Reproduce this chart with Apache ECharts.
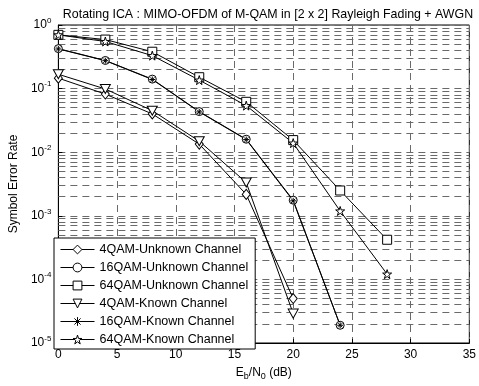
<!DOCTYPE html>
<html>
<head>
<meta charset="utf-8">
<script src="https://cdn.jsdelivr.net/npm/echarts@6/dist/echarts.min.js"></script>
<style>
  html, body { margin: 0; padding: 0; background: #fff; }
  #chart { width: 479px; height: 386px; }
</style>
</head>
<body>
<div id="chart"></div>
<script>
// Eb/N0 points (dB)
var ebn0 = [0, 4, 8, 12, 16, 20, 24, 28];

// symbol error rates
var qam4Unknown  = [0.146, 0.082, 0.040, 0.0134, 0.00217, 5.0e-5];
var qam16Unknown = [0.425, 0.277, 0.141, 0.0435, 0.016, 0.00176, 1.9e-5];
var qam64Unknown = [0.70, 0.59, 0.38, 0.151, 0.062, 0.0155, 0.0025, 0.00042];
var qam4Known    = [0.168, 0.0986, 0.045, 0.0149, 0.00334, 2.9e-5];
var qam16Known   = [0.42, 0.275, 0.139, 0.043, 0.0158, 0.00172, 1.9e-5];
var qam64Known   = [0.70, 0.55, 0.33, 0.136, 0.054, 0.0139, 0.00119, 0.000121];

var seriesNames = ['4QAM-Unknown Channel', '16QAM-Unknown Channel', '64QAM-Unknown Channel',
                   '4QAM-Known Channel', '16QAM-Known Channel', '64QAM-Known Channel'];

var FONT = 'Liberation Sans';
var GRID_DASH = { color: '#6a6a6a', type: [7, 5], width: 1 };

// marker shapes
var triDown = 'path://M0,0L10,0L5,9Z';
var asterisk = 'path://M5,0L5,10M0,5L10,5M1.5,1.5L8.5,8.5M8.5,1.5L1.5,8.5';
var star5 = 'path://M50,0L61.2,34.6L97.6,34.5L68.1,55.9L79.4,90.5L50,69L20.6,90.5L31.9,55.9L2.4,34.5L38.8,34.6Z';

// minor log grid lines 2..9 x 10^k
var minorLines = [];
for (var k = -5; k < 0; k++) {
  for (var m = 2; m <= 9; m++) {
    minorLines.push({ yAxis: +(m * Math.pow(10, k)).toPrecision(3) });
  }
}

function pairs(vals) {
  var res = [];
  for (var i = 0; i < vals.length; i++) res.push([ebn0[i], vals[i]]);
  return res;
}

function mkSeries(name, vals, symbol, size) {
  return {
    name: name,
    type: 'line',
    data: pairs(vals),
    symbol: symbol,
    symbolSize: size,
    showAllSymbol: true,
    lineStyle: { color: '#000', width: 1 },
    itemStyle: { color: '#fff', borderColor: '#000', borderWidth: 1 },
    emphasis: { disabled: true },
    animation: false,
    z: 3
  };
}

var chart = echarts.init(document.getElementById('chart'));

chart.setOption({
  animation: false,
  title: {
    text: 'Rotating ICA : MIMO-OFDM of M-QAM in [2 x 2] Rayleigh Fading + AWGN',
    left: 263, top: 4, textAlign: 'center',
    textStyle: { fontFamily: FONT, fontSize: 12.4, fontWeight: 'normal', color: '#000' }
  },
  legend: {
    orient: 'vertical',
    left: 54, top: 238,
    z: 20,
    padding: [5, 7, 3, 6],
    itemWidth: 34, itemHeight: 11, itemGap: 5,
    backgroundColor: '#fff',
    borderColor: '#000', borderWidth: 1,
    lineStyle: { width: 1 },
    itemStyle: { borderWidth: 1 },
    textStyle: { fontFamily: FONT, fontSize: 12.5, color: '#000' },
    data: seriesNames
  },
  grid: {
    left: 54, right: 7, top: 25, bottom: 38,
    show: true, borderColor: '#000', borderWidth: 1, backgroundColor: 'transparent'
  },
  xAxis: {
    type: 'value', min: 0, max: 35, interval: 5,
    name: '{a|E}{s|b}{a|/N}{s|0}{a| (dB)}',
    nameLocation: 'middle', nameGap: 22,
    nameTextStyle: {
      rich: {
        a: { fontFamily: FONT, fontSize: 12, color: '#000' },
        s: { fontFamily: FONT, fontSize: 9, color: '#000', padding: [7, 0, 0, 0] }
      }
    },
    axisLine: { lineStyle: { color: '#000' } },
    axisTick: { inside: true, length: 4, lineStyle: { color: '#000' } },
    axisLabel: { fontFamily: FONT, fontSize: 12, color: '#000', margin: 6 },
    splitLine: { show: true, lineStyle: GRID_DASH }
  },
  yAxis: {
    type: 'log', logBase: 10, min: 1e-5, max: 1,
    name: 'Symbol Error Rate',
    nameLocation: 'middle', nameGap: 36,
    nameTextStyle: { fontFamily: FONT, fontSize: 12, color: '#000' },
    axisLine: { lineStyle: { color: '#000' } },
    axisTick: { inside: true, length: 4, lineStyle: { color: '#000' } },
    axisLabel: {
      margin: 7,
      formatter: function (v) {
        var e = Math.round(Math.log10(v));
        return '{b|10}{p|' + e + '}';
      },
      rich: {
        b: { fontFamily: FONT, fontSize: 12, color: '#000' },
        p: { fontFamily: FONT, fontSize: 8, color: '#000', padding: [0, 0, 9, 0] }
      }
    },
    splitLine: { show: true, lineStyle: GRID_DASH }
  },
  series: [
    {
      // minor grid only
      name: 'minor-grid',
      type: 'line',
      data: [],
      silent: true,
      z: 1,
      markLine: {
        silent: true, symbol: 'none', animation: false, precision: 6,
        z: 1,
        label: { show: false },
        lineStyle: GRID_DASH,
        emphasis: { disabled: true },
        data: minorLines
      }
    },
    mkSeries(seriesNames[0], qam4Unknown, 'diamond', [8, 10]),
    mkSeries(seriesNames[1], qam16Unknown, 'circle', 8),
    mkSeries(seriesNames[2], qam64Unknown, 'rect', 9),
    mkSeries(seriesNames[3], qam4Known, triDown, [10, 9]),
    mkSeries(seriesNames[4], qam16Known, asterisk, 6),
    mkSeries(seriesNames[5], qam64Known, star5, 9)
  ]
});
</script>
</body>
</html>
